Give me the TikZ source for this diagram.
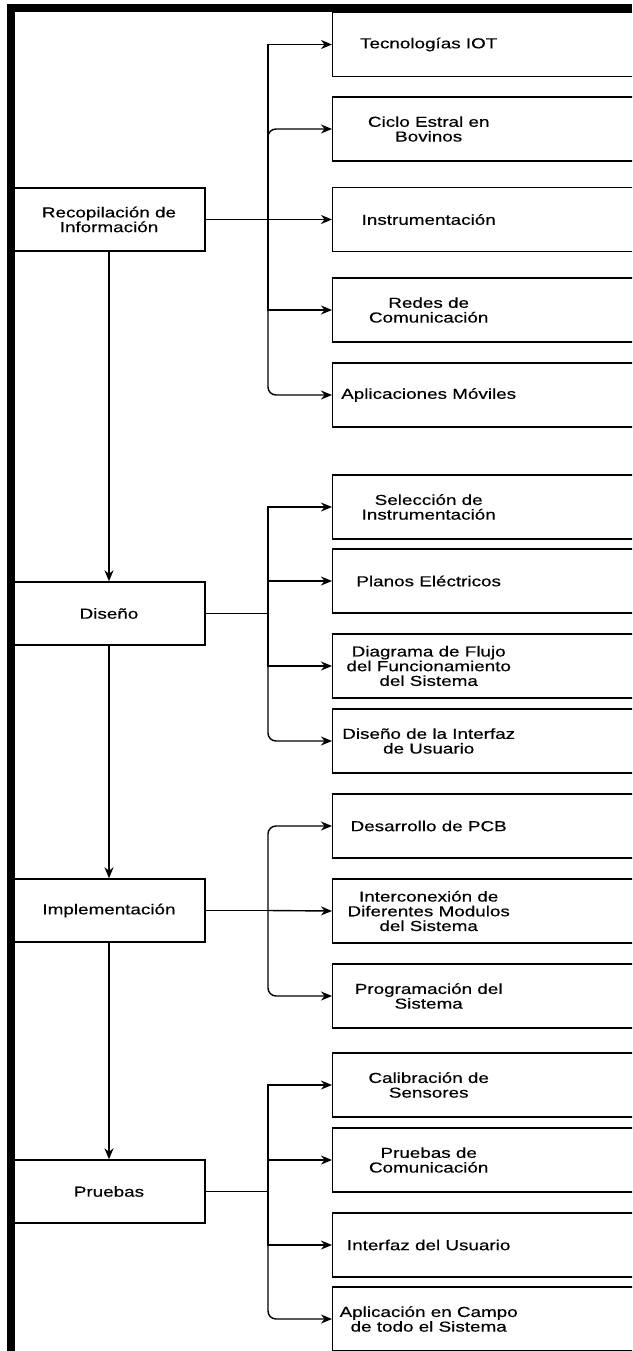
\documentclass[tikz,border=0pt]{standalone}
\usepackage{fontspec}
\setmainfont{Liberation Sans}[FakeStretch=1.3,FakeBold=0.4]
\usetikzlibrary{arrows.meta}
\newcommand\rtext[1]{\makebox[310pt][l]{\parbox{192pt}{\centering #1}}}
\begin{document}
\begin{tikzpicture}[x=1pt,y=-1pt,
  font=\fontsize{14.5pt}{14.7pt}\selectfont,
  lbox/.style={draw, line width=1.4pt, minimum width=192pt, minimum height=63pt, inner sep=0pt, align=center},
  rbox/.style={draw, line width=1.4pt, anchor=west, minimum height=64pt, inner sep=0pt},
  conn/.style={line width=1.4pt, -{Stealth[length=11pt,width=9pt,inset=3.5pt]}},
  trunk/.style={line width=1.4pt},
  rconn/.style={conn, rounded corners=8pt},
]
\useasboundingbox (0,0) rectangle (632,1351);
\clip (0,0) rectangle (632,1351);
% frame
\fill[black] (7,4.5) rectangle (632,12.5);
\fill[black] (7,4.5) rectangle (14.5,1351);

% left column
\node[lbox] (rec) at (109,219.5) {Recopilación de\\Información};
\node[lbox] (dis) at (109,613.5) {Diseño};
\node[lbox] (imp) at (109,910.5) {Implementación};
\node[lbox] (pru) at (109,1191.5) {Pruebas};

% group 1
\node[rbox] (tec) at (332,44.5) {\rtext{Tecnologías IOT}};
\node[rbox] (cic) at (332,129) {\rtext{Ciclo Estral en\\Bovinos}};
\node[rbox] (ins) at (332,219.5) {\rtext{Instrumentación}};
\node[rbox] (red) at (332,310) {\rtext{Redes de\\Comunicación}};
\node[rbox] (apm) at (332,395) {\rtext{Aplicaciones Móviles}};
% group 2
\node[rbox] (sel) at (332,507) {\rtext{Selección de\\Instrumentación}};
\node[rbox] (pla) at (332,581) {\rtext{Planos Eléctricos}};
\node[rbox] (dia) at (332,666) {\rtext{Diagrama de Flujo\\del Funcionamiento\\del Sistema}};
\node[rbox] (din) at (332,741) {\rtext{Diseño de la Interfaz\\de Usuario}};
% group 3
\node[rbox] (pcb) at (332,826) {\rtext{Desarrollo de PCB}};
\node[rbox] (int) at (332,911) {\rtext{Interconexión de\\Diferentes Modulos\\del Sistema}};
\node[rbox] (prg) at (332,996) {\rtext{Programación del\\Sistema}};
% group 4
\node[rbox] (cal) at (332,1085) {\rtext{Calibración de\\Sensores}};
\node[rbox] (pco) at (332,1160) {\rtext{Pruebas de\\Comunicación}};
\node[rbox] (ius) at (332,1245) {\rtext{Interfaz del Usuario}};
\node[rbox] (acs) at (332,1319) {\rtext{Aplicación en Campo\\de todo el Sistema}};

% bus coordinates
\coordinate (b1) at (268,219.5);
\coordinate (b2) at (268,613.5);
\coordinate (b3) at (268,910.5);
\coordinate (b4) at (268,1191.5);

% vertical flow
\draw[conn] (rec.south) -- (dis.north);
\draw[conn] (dis.south) -- (imp.north);
\draw[conn] (imp.south) -- (pru.north);

% group 1 connectors
\draw[trunk] (rec.east) -- (b1);
\draw[conn] (b1) |- (tec.west);
\draw[rconn] (b1) |- (cic.west);
\draw[conn] (b1) -- (ins.west);
\draw[conn] (b1) |- (red.west);
\draw[rconn] (b1) |- (apm.west);
% group 2
\draw[trunk] (dis.east) -- (b2);
\draw[conn] (b2) |- (sel.west);
\draw[conn] (b2) |- (pla.west);
\draw[conn] (b2) |- (dia.west);
\draw[rconn] (b2) |- (din.west);
% group 3
\draw[trunk] (imp.east) -- (b3);
\draw[rconn] (b3) |- (pcb.west);
\draw[conn] (b3) -- (int.west);
\draw[rconn] (b3) |- (prg.west);
% group 4
\draw[trunk] (pru.east) -- (b4);
\draw[conn] (b4) |- (cal.west);
\draw[conn] (b4) |- (pco.west);
\draw[conn] (b4) |- (ius.west);
\draw[rconn] (b4) |- (acs.west);
\end{tikzpicture}
\end{document}
